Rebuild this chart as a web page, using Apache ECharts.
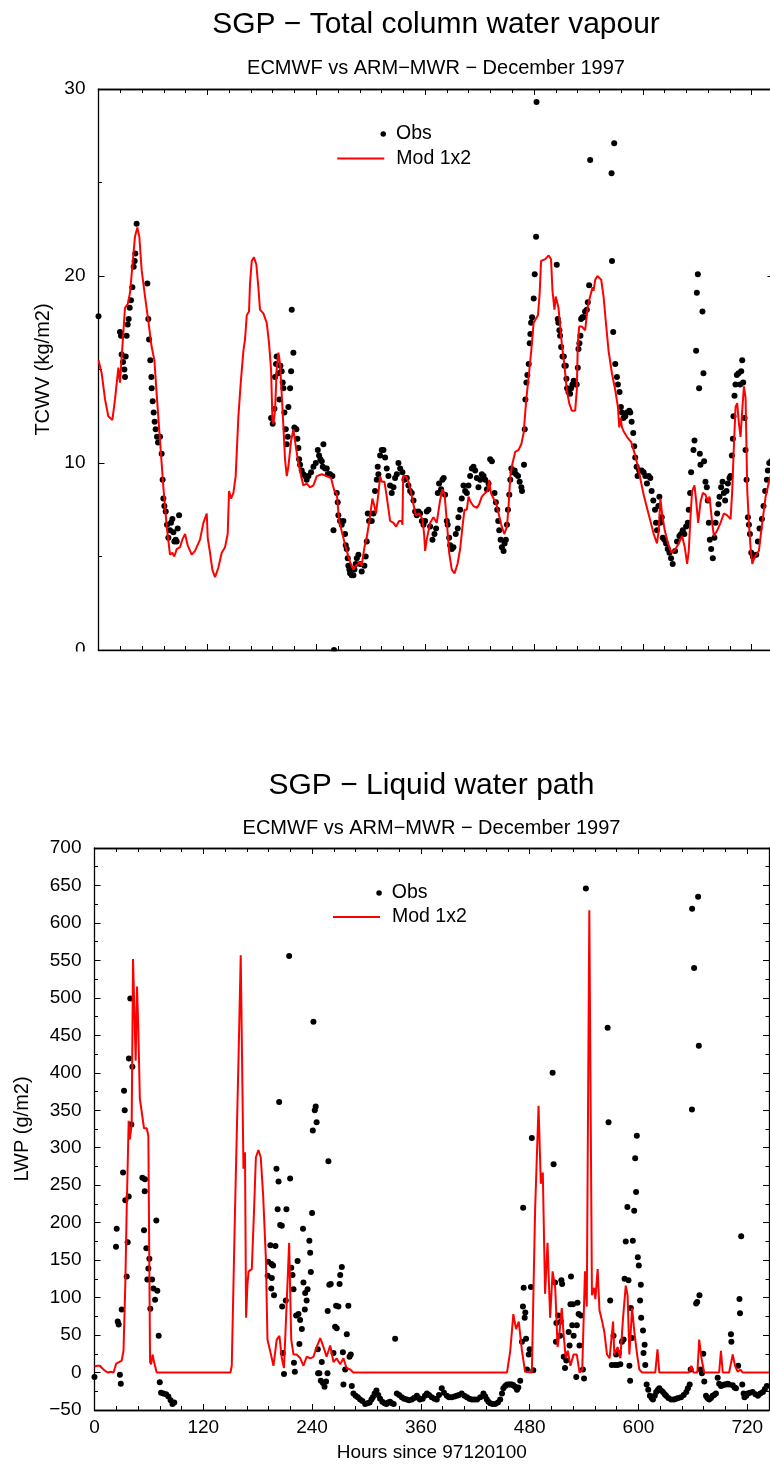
<!DOCTYPE html>
<html><head><meta charset="utf-8">
<script src="https://cdn.jsdelivr.net/npm/echarts@6/dist/echarts.min.js"></script>
<style>html,body{margin:0;padding:0;background:#fff}#c{width:770px;height:1464px}</style>
</head><body><div id="c"></div><script>
// ---------- DATA ----------
const hourTicks = [0, 120, 240, 360, 480, 600, 720];
const tcwvTicks = [0, 10, 20, 30];
const lwpTicks = [-50, 0, 50, 100, 150, 200, 250, 300, 350, 400, 450, 500, 550, 600, 650, 700];

const tcwvModHours = [0,3.5,7.2,10.8,15.3,18.2,21.9,23.7,24.8,27.4,29.2,32.2,34.7,37.3,40.2,42.8,45,47.6,51.3,54.9,58.6,61.6,64.1,67.8,71.5,75.2,78.8,81.4,83.6,86.2,89.9,92.4,95.4,98.3,102.7,106.4,111.9,115.6,119.3,120.4,122.9,125.5,128.4,132.1,135.8,139.5,142.4,143.9,146.1,148.7,151.2,154.2,156.8,159.7,161.5,163.4,165.9,167,168.9,171.4,174,176.2,178,181.7,185.4,188,190.2,191.7,192.8,194.6,196.5,198.3,200.1,202.7,205.6,207.5,209.3,212.3,214.8,217.4,220.3,223.3,225.8,229.5,233.2,236.9,240.6,246.1,251.6,256.3,260,262.6,265.2,269.9,273.6,277.3,281,283.5,285.7,288.3,290.1,293.1,295.6,298.6,301.9,304.1,305.9,308.6,310.4,312.2,315.2,317.7,321.4,325.1,328,331.3,334.3,335,335.8,338.7,341.6,344.6,347.5,349.7,353.4,357.1,358.9,360,361.8,365.5,369.2,372.8,376.5,379.1,381.3,383.9,386.5,389.4,392.4,395.7,398.6,401.2,403.4,406,407.8,410.4,413.3,417,419.6,422.5,426.2,428.8,430.6,432.5,435.4,438,441,443.9,447.2,450.2,452,453.9,456.4,459.4,463,466,468.6,471.5,474.1,477,479.6,481.5,484.4,486.3,487.8,490,492.5,496.2,498.8,500.4,502.6,504,507,510.6,513.6,516.2,518.8,521.7,525.4,527.2,528.3,529.8,532.7,536.4,539.4,541.9,544.5,545.6,547.5,550,551.9,554.1,556.7,559.3,562.2,565.9,569.6,572.5,574,575.5,577,578.8,582.5,587.3,591,594.6,598.3,600.9,604.6,608.3,612,615.6,617.5,619.3,621.2,624.1,627.8,631.5,635.9,639.6,643.3,646.2,648.8,650.6,652.5,654.3,656.9,658.7,661,663.5,666.1,669.1,671.6,673.5,676.4,678.3,682,685.6,689.3,693,696.7,698.5,700.4,702.2,704,705.9,707.7,709.5,711.4,713.2,715.1,716.9,718.7,720.6,723.5,727.9,731.6,735.3,739,740.8,744];
const tcwvModValues = [15.5,14.8,13.4,12.5,12.3,13.4,15.1,14.3,15.1,17.0,18.3,18.5,19.1,20.5,22.1,22.6,22.1,20.3,18.9,17.6,16.2,15.5,13.7,11.2,8.7,6.6,5.1,5.2,5.0,5.4,5.5,5.9,6.2,5.6,5.1,5.3,5.9,6.8,7.3,6.0,5.2,4.3,3.9,4.4,5.2,5.5,6.2,8.5,8.1,8.4,9.3,12.5,14.3,16.0,16.6,17.9,18.1,19.6,20.8,21.0,20.6,19.4,18.2,18.0,17.5,16.4,15.0,12.3,12.1,12.8,15.1,15.9,15.3,13.0,10.2,9.3,9.8,11.2,11.8,10.9,10.0,9.3,8.8,8.9,8.7,8.8,9.3,9.4,9.3,9.2,8.5,8.4,6.9,6.0,5.3,4.7,4.3,4.5,4.4,4.7,4.5,5.5,6.0,6.9,8.1,7.7,7.3,8.4,9.3,9.0,9.0,8.2,6.9,6.8,6.6,6.9,6.9,6.7,9.3,9.3,9.0,8.4,7.7,7.2,7.3,7.0,6.2,5.3,5.9,6.8,7.1,6.8,8.0,8.6,8.4,6.9,5.2,4.3,4.1,4.6,5.4,6.6,7.5,7.5,8.2,7.9,7.7,7.6,7.8,8.2,8.4,8.5,9.1,8.4,8.1,7.9,7.3,6.7,6.2,6.6,7.7,9.3,10.0,10.6,10.7,11.0,11.6,13.4,14.6,16.0,17.5,17.6,17.9,19.1,20.8,20.7,20.9,21.1,20.9,19.2,18.2,18.9,18.3,16.4,15.2,13.9,13.2,12.8,12.8,13.9,16.4,17.3,17.3,17.1,18.4,18.9,19.4,19.2,19.8,20.0,20.05,19.8,18.9,17.5,16.0,14.8,13.9,13.0,11.9,12.4,11.9,11.7,11.4,11.1,10.5,9.8,8.9,8.3,7.6,6.9,6.2,5.7,6.4,8.1,7.3,6.4,5.7,5.2,5.4,5.7,6.1,5.5,4.6,5.3,7.1,8.5,8.8,8.0,6.8,7.9,8.4,8.3,7.9,8.2,6.8,6.1,6.4,6.8,7.3,7.2,7.0,8.5,11.0,13.0,13.2,12.1,11.4,12.8,14.1,13.5,8.5,6.8,5.5,4.6,5.0,5.3,6.8,8.2,9.0,9.3,9.2];

const tcwvObsHours = [0,23.7,24.8,25.5,27,28.5,29.2,30,31,32.2,33.3,34.4,35.8,37.3,38.8,39.9,40.6,42,53.8,54.9,55.7,57.1,58.3,58.6,59.7,60.8,61.9,63,64.5,65.6,67.8,69.6,70.7,71.5,72.6,74.1,75.5,77,78.8,79.9,81.4,82.5,83.6,85.1,86.2,87.3,88.8,
190.2,192,193.9,194.6,195.7,196.4,198.3,199.4,200.5,201.9,203,203.8,204.9,206.4,207.5,208.6,209.3,211.2,212.3,213,214.8,215.9,218.1,219.2,220.3,221.1,222.2,224,225.8,227.7,229.5,231.4,234.3,236.9,239.5,241.7,243.1,244.6,246.1,247.2,247.9,249.8,251.6,252.7,254,255.3,257.8,259,259.6,262.6,263.7,264.4,266.2,268.1,269.9,271.8,272.5,273.6,274.7,275.4,276.5,277.3,279.1,281,282.1,283.5,284.7,286.5,288.3,290.1,293.1,294.5,295.7,296.8,298.2,301.2,303,304.8,306.7,307.8,308.5,310.4,312.2,314.1,315.9,317.7,319.6,321.4,323.2,325.1,326.9,328.8,330.6,332.5,335,337.2,339.8,341.6,343.5,345.3,347.2,349,350.8,352.7,354.5,356.4,358.2,360,361.8,363.7,365.5,368.1,370.3,372.1,374,375.4,377.6,379.1,380.5,382,383.9,384.9,386.5,387.6,389.4,391.2,393.8,396,396.7,398.6,400.4,402.3,404.1,406,407.8,409.6,411.5,413.3,415.2,417,418.8,420.7,422.5,424.4,426.2,428.1,429.9,431.7,433.6,436.5,438,439.5,440.6,441.7,443.2,444.6,446.5,447.6,449,450.2,451.3,452.8,453.9,455,456.4,458.7,460.2,462.4,464.2,466.1,466.8,469,469.8,470.5,471.6,472.7,474.2,475.3,476,476.8,477.9,479.7,480.8,482.3,482.8,
505.1,506.2,506.9,508,508.8,509.9,511.4,512.9,513.6,515.1,515.8,516.5,518,519.8,520.9,522.4,523.8,525.3,527.1,528.3,529,530.1,531.2,531.9,533.4,534.9,536.3,538.2,539.3,540.8,541.9,565.5,566,567.3,568.4,569.6,571.4,572.5,574.3,575.8,576.9,578.7,580.6,582.4,585,586.1,587.6,589.4,590.5,591.6,593.1,594.2,596,598.6,600.8,602.7,604.5,606.4,608.2,609.7,611.5,613.4,614.5,615.6,617.1,618.2,619.3,620.8,621.9,623.7,625.6,627.4,629.3,631.1,632.9,635.5,637.7,640.3,642.1,644,645.8,647.7,649.5,650.6,652.1,653.2,655.8,656.9,658.7,659.5,660.6,662,662.8,663.5,665.7,666.8,667.5,669,670.5,671.6,672.7,673.8,675.3,677.1,678.9,680.1,681.9,683.4,684.5,686.3,687.8,689.3,690.7,692.2,693.7,695.5,696.6,698.1,699.2,699.9,701,702.1,703.6,705.5,707.3,708.4,709.5,710.6,712.1,713.2,714.3,715.8,716.9,718,719.5,721.3,725,726.8,728.6,731.2,733,734.8,736.7,737.8,739.3,741.5];
const tcwvObsValues = [17.85,17.0,16.8,15.8,15.4,15.0,14.6,15.7,16.8,17.4,17.7,18.3,18.7,19.4,20.5,20.8,21.2,22.8,19.6,17.7,16.6,15.5,14.6,14.0,13.3,12.7,12.2,11.8,11.4,11.1,11.4,10.5,9.1,8.1,7.7,7.4,6.7,6.0,6.4,6.8,7.0,6.3,5.8,5.9,5.8,6.5,7.2,
12.4,12.1,12.9,14.6,15.3,15.7,14.8,13.4,15.2,14.9,14.3,14.0,12.7,11.8,11.0,11.4,13.0,14.0,14.9,18.2,15.9,11.9,11.8,11.3,10.8,10.2,9.9,9.6,9.4,9.3,9.1,9.3,9.5,9.8,10.0,10.7,10.4,10.2,10.1,9.8,11.0,9.7,9.7,9.4,9.4,9.4,9.3,6.4,0,8.4,7.9,7.2,6.9,6.7,6.9,6.2,5.6,5.4,4.9,4.5,4.3,4.1,4.0,4.0,4.3,4.6,4.9,5.1,4.6,4.2,4.5,5.0,5.8,7.3,6.9,6.9,7.3,8.5,9.1,9.8,9.4,10.4,10.7,10.7,10.3,9.7,9.3,8.8,8.4,8.7,9.2,9.4,10.0,9.7,9.5,9.1,9.2,8.8,8.5,8.4,8.0,7.4,7.2,7.4,7.3,6.9,6.7,6.9,7.4,7.5,6.6,5.9,6.2,6.5,8.4,8.9,8.6,9.1,9.2,8.3,6.9,6.7,6.0,5.6,5.4,5.5,6.2,6.5,7.1,7.5,8.1,8.8,8.5,8.4,8.8,9.3,9.7,9.8,9.6,9.2,8.7,9.1,9.4,9.3,9.1,8.6,8.9,10.2,10.1,8.4,7.9,7.5,6.9,6.4,5.9,5.5,5.3,5.7,5.9,6.7,7.5,8.3,9.1,9.7,9.5,9.6,9.4,9.3,9.0,8.7,8.5,9.9,11.8,13.4,14.3,14.7,15.3,16.4,16.9,17.5,17.8,18.8,20.1,22.1,29.3,
20.6,17.7,17.5,17.1,16.8,16.2,15.7,15.7,15.2,15.2,14.5,14.0,13.8,13.7,14.0,14.2,14.4,14.2,14.2,15.1,16.1,16.4,16.8,17.7,17.8,17.8,18.1,18.2,18.6,19.5,26.2,25.5,20.8,17.0,27.1,15.3,14.6,14.2,13.8,13.0,12.7,12.4,12.5,12.7,12.8,12.7,12.2,11.6,10.9,10.3,9.8,9.3,9.6,9.6,9.5,9.3,8.9,9.3,9.2,8.5,8.0,7.5,6.8,6.4,7.7,8.2,6.8,7.1,6.0,5.9,5.7,5.4,5.2,4.9,4.6,5.3,5.8,6.1,6.2,6.4,6.2,6.6,6.8,7.5,8.4,9.5,10.7,11.2,16.0,19.1,20.1,14.0,10.5,9.9,18.1,14.8,10.1,9.0,8.7,8.0,6.8,5.9,5.4,4.9,6.0,6.8,7.3,7.8,8.2,8.7,9.0,8.4,8.0,8.5,8.9,9.2,9.3,10.4,11.3,12.5,13.6,14.2,14.7,14.8,14.2,14.9,15.5,14.3,12.4,10.7,9.1,7.1,6.7,6.2,5.2,5.0,5.1,5.8,6.5,7.0,7.7,8.5,9.1,9.6,10.0,10.1];

const lwpModHours = [0,3,6,9,12,15,18,21,23,24,27,30,32,34,35.5,37.7,39,41,42.5,44,45.4,46.9,48.4,50,52,54.6,57.6,59.4,61.3,62.4,64,65.7,68.6,115,117,119,150,151.4,155,158.8,161.3,162.8,164.3,166,167.2,168.7,170,173.5,176,178,180.8,183.4,186,189,190.8,193.7,197.4,201,204,206.6,209,212,214.7,217,219.5,223,227,230.5,234,238,241.5,245,249,252.6,256,260,263.6,267,271,274.6,278,282,285.6,455,458.6,462,465,468,471.5,475,482.4,486,489.8,492.3,494.5,497,499.7,502.6,505.3,508.2,510.8,513,515.4,517.6,519.8,522,525,528.4,532,535,538,541,543,545.8,547.2,548.7,551,552.5,555,557,560,562.4,565.3,568.2,570.5,572,573.4,577,580,583,586,588,590,593,595.5,598.5,601,604,618.5,621,623,655.8,658.4,660.7,665,667,669.5,672.5,689,691,693,700,704,706.5,709.5,712.5,715,744];
const lwpModValues = [8,9,9,5,2,0,1,0,1,12,14,16,29,118,217,336,311,331,552,552,416,515,455,366,366,326,326,316,14,11,24,14,0,0,2,0,0,9,217,416,557,557,272,294,73,118,135,138,217,287,297,287,237,153,44,29,9,44,49,19,6,93,173,44,24,24,19,9,21,19,21,34,46,34,21,36,14,19,11,19,6,4,0,0,29,78,58,68,29,1,0,217,356,252,267,105,173,73,135,113,34,54,86,49,19,29,9,24,24,0,4,135,88,617,617,103,113,98,138,83,68,54,24,19,49,68,24,34,19,73,116,103,24,86,54,24,4,0,0,31,0,0,9,0,0,44,19,0,0,29,0,0,24,9,1,4,0,0];

const lwpObsHours = [0,23.7,24.5,25.6,26.7,28,29,30,31.5,32.6,33.3,34,35.5,36.6,37.7,38,39.5,40.6,41.8,52.8,54.6,55.4,55.7,57.2,58.3,59.4,60.5,61.6,63.5,65,66.8,68.2,69.3,70.8,72,73.4,76,79,81.5,84,86,88,
191,191.5,194,195,195.3,195.6,197,198,199.6,200.7,202,203,203.7,204.8,206.6,207,207.7,209,211,211.7,214.7,215.8,217,218.4,219.5,220,221,222.4,224,225,226,226.8,228.7,230,230.5,232,232.4,234,235,237,237.9,238.6,240,240.8,241.5,243,244,245,246.3,246.6,248,249.6,250.7,252,253.7,255.5,257,257.2,258,259,260.6,263.6,265.4,266.5,267.2,269,270.3,271,272.8,274,274.6,276.5,278.3,280,281.3,282.7,
283.8,285.6,288,290.5,293,295.5,298.5,301,303.5,305.5,307,309,311,313,315,317.5,320,322,324,326,328,330,331.6,333.5,336,339,341.5,344.5,347,350,352.5,355.6,357.5,359,362,364.5,366.6,369,372,375,377.6,380,383,385.5,388.6,391,394,397,399.6,402,405,408,410.8,413.5,416.3,419,422,425.5,429,431,432.8,434.5,436.5,439,442,445,447.5,449.5,451,453,455,457,458.6,460.5,462,464,466,467.5,469.6,
471.5,472.6,472.8,473.4,474.5,475.2,476,477,479,480,481.4,482.4,484,505.3,506.4,508,509,509.5,511.6,513.6,514.4,515,515.8,517.6,519,520.4,523,524,525,525.6,527,527.8,528.5,531.4,532,532.8,534,535,536.5,538.7,540,542,
566,567,568.8,570.6,572.5,574.3,575.4,577,578.4,580,581.8,583.6,584.7,586,587.8,589,590,590.8,591.6,592.7,593.8,595.3,596.4,597.4,598.2,599.3,600.4,601.8,602.6,603,605,605.6,606.8,607.5,
609,610.8,612.6,614.5,616,618,619.6,621.5,623,625,627,629,630.5,633,636,639,641.6,644,647,650,652.8,654.5,656.5,657.6,659,659.2,661.4,663.6,664.8,665.8,666.6,667.3,668.4,670,671.5,672.6,674.5,676,678,680,681.8,683.5,685.5,687.4,689,691,693,694.7,696.5,698.4,700,702,702.5,704,706,707.6,710,711.4,712,713.3,714.5,716,717,719,720.6,723,726,729,731.8,734.5,737.3,739.5,741.6];
const lwpObsValues = [-6,168,192,68,64,-3,-15,84,267,376,350,230,128,174,235,419,499,331,408,260,190,242,258,166,124,139,152,85,124,112,97,203,109,49,-13,-27,-28,-29,-32,-37,-42,-40,
129,148,170,112,145,126,143,103,169,272,218,255,361,197,196,88,26,-2,96,218,556,259,140,130,111,13,1,76,149,78,38,70,58,192,120,84,106,96,111,176,160,134,213,323,468,350,355,334,31,-1,-1,-11,14,-14,-19,-12,-1,82,282,117,118,26,61,89,59,88,118,130,141,27,-16,4,51,89,21,24,
-18,-28,-31,-33,-36,-38,-42,-41,-40,-36,-33,-28,-24,-30,-35,-39,-41,-42,-40,-39,-41,-42,45,-28,-30,-33,-35,-36,-37,-36,-34,-31,-34,-36,-35,-31,-28,-30,-33,-35,-36,-30,-21,-27,-31,-33,-33,-32,-31,-30,-28,-31,-33,-35,-36,-36,-36,-33,-28,-32,-36,-39,-41,-42,-42,-40,-36,-28,-21,-18,-16,-16,-16,-16,-17,-19,-23,-20,-11,
41,88,220,113,73,80,45,4,24,31,114,313,3,400,278,120,41,66,76,49,68,123,118,21,6,16,54,36,91,128,63,91,49,-6,63,93,78,36,76,4,-8,646,
460,334,96,10,49,10,24,10,26,11,41,44,125,175,221,123,9,-11,86,46,176,216,286,241,316,154,143,96,117,73,56,26,37,10,
-16,-23,-31,-34,-36,-31,-26,-23,-21,-24,-26,-29,-31,-34,-36,-36,-35,-34,-33,-30,-26,-21,-16,4,351,619,540,92,94,635,436,103,4,-1,25,-12,-31,-34,-36,-34,-31,-30,-28,-7,-15,-18,-17,-16,-16,-15,-16,51,41,-17,-20,-21,9,98,79,182,-16,-28,-33,-31,-28,-27,-26,-29,-31,-28,-26,-22,-18];

// ---------- CHART ----------
const FONT = "'Liberation Sans', Arial, Helvetica, sans-serif";
const pairs = (xs, ys) => xs.map((x, i) => [x, ys[i]]);
const fmtNum = v => (v < 0 ? '\u2212' + Math.abs(v) : String(v));

function xAx(g, pos, interval, len, labels) {
  return {
    gridIndex: g, type: 'value', position: pos, min: hourTicks[0], max: 744, interval: interval,
    axisLine: { show: true, onZero: false, lineStyle: { color: '#000', width: 1.3 } },
    axisTick: { show: true, inside: true, length: len, lineStyle: { color: '#000', width: 1 } },
    axisLabel: labels ? {
      show: true, margin: 8, fontSize: 19, color: '#000', fontFamily: FONT,
      formatter: v => (hourTicks.indexOf(v) >= 0 ? String(v) : '')
    } : { show: false },
    splitLine: { show: false }, minorTick: { show: false }, minorSplitLine: { show: false },
    name: labels ? 'Hours since 97120100' : '', nameLocation: 'middle', nameGap: 33,
    nameTextStyle: { fontSize: 19, color: '#000', fontFamily: FONT }
  };
}
function yAx(g, pos, ticks, labels, name, gap) {
  return {
    gridIndex: g, type: 'value', position: pos, min: ticks[0], max: ticks[ticks.length - 1],
    interval: ticks[1] - ticks[0],
    axisLine: { show: true, onZero: false, lineStyle: { color: '#000', width: 1.3 } },
    axisTick: { show: true, inside: true, length: 6, lineStyle: { color: '#000', width: 1 } },
    minorTick: { show: true, splitNumber: 2, length: 3.5, lineStyle: { color: '#000', width: 1 } },
    axisLabel: labels ? { show: true, margin: 13, fontSize: 19, color: '#000', fontFamily: FONT, formatter: fmtNum } : { show: false },
    splitLine: { show: false }, minorSplitLine: { show: false },
    name: labels ? name : '', nameLocation: 'middle', nameGap: gap, nameRotate: 90,
    nameTextStyle: { fontSize: 20, color: '#000', fontFamily: FONT }
  };
}
const titleStyle = s => ({ fontSize: s, fontWeight: 'normal', color: '#000', fontFamily: FONT });
const legendText = pad => ({ fontSize: 19.5, color: '#000', fontFamily: FONT, padding: [0, 0, 0, pad] });
const legendCommon = { selectedMode: false, padding: 0, orient: 'vertical' };
const dotStyle = { color: '#000', opacity: 1 };

const chart = echarts.init(document.getElementById('c'), null, { renderer: 'canvas' });
chart.setOption({
  animation: false,
  backgroundColor: '#fff',
  title: [
    { text: 'SGP \u2212 Total column water vapour', left: 436, top: 10, textAlign: 'center', padding: 0, textStyle: titleStyle(30) },
    { text: 'ECMWF vs ARM\u2212MWR \u2212 December 1997', left: 436, top: 58, textAlign: 'center', padding: 0, textStyle: titleStyle(20) },
    { text: 'SGP \u2212 Liquid water path', left: 431.5, top: 771, textAlign: 'center', padding: 0, textStyle: titleStyle(30) },
    { text: 'ECMWF vs ARM\u2212MWR \u2212 December 1997', left: 431.5, top: 818, textAlign: 'center', padding: 0, textStyle: titleStyle(20) }
  ],
  legend: [
    Object.assign({}, legendCommon, { data: [{ name: 'Obs', icon: 'circle', itemStyle: dotStyle }], left: 380.5, top: 124, itemWidth: 5.5, itemHeight: 5.5, textStyle: legendText(5) }),
    Object.assign({}, legendCommon, { data: [{ name: 'Mod 1x2', icon: 'rect' }], left: 337.3, top: 148.5, itemWidth: 47, itemHeight: 2.2, textStyle: legendText(7) }),
    Object.assign({}, legendCommon, { data: [{ name: 'Obs', icon: 'circle', itemStyle: dotStyle }], left: 376.3, top: 883, itemWidth: 5.5, itemHeight: 5.5, textStyle: legendText(5) }),
    Object.assign({}, legendCommon, { data: [{ name: 'Mod 1x2', icon: 'rect' }], left: 333, top: 907, itemWidth: 47, itemHeight: 2.2, textStyle: legendText(7) })
  ],
  grid: [
    { left: 98.5, top: 89, width: 675, height: 561, containLabel: false, outerBoundsMode: 'none' },
    { left: 94.5, top: 848, width: 674.5, height: 562, containLabel: false, outerBoundsMode: 'none' }
  ],
  xAxis: [
    xAx(0, 'bottom', 24, 4, false), xAx(0, 'bottom', 120, 6, false),
    xAx(0, 'top', 24, 4, false), xAx(0, 'top', 120, 6, false),
    xAx(1, 'bottom', 24, 4, false), xAx(1, 'bottom', 120, 6, true),
    xAx(1, 'top', 24, 4, false), xAx(1, 'top', 120, 6, false)
  ],
  yAxis: [
    yAx(0, 'left', tcwvTicks, true, 'TCWV (kg/m2)', 43.5),
    yAx(0, 'right', tcwvTicks, false, '', 0),
    yAx(1, 'left', lwpTicks, true, 'LWP (g/m2)', 62.5),
    yAx(1, 'right', lwpTicks, false, '', 0)
  ],
  series: [
    { type: 'scatter', name: 'Obs', xAxisIndex: 0, yAxisIndex: 0, data: pairs(tcwvObsHours, tcwvObsValues),
      symbol: 'circle', symbolSize: 6, itemStyle: dotStyle, z: 2, silent: true },
    { type: 'line', name: 'Mod 1x2', xAxisIndex: 0, yAxisIndex: 0, data: pairs(tcwvModHours, tcwvModValues),
      symbol: 'none', showSymbol: false, lineStyle: { color: '#ff0000', width: 2 }, itemStyle: { color: '#ff0000' }, z: 3, silent: true },
    { type: 'scatter', name: 'Obs', xAxisIndex: 5, yAxisIndex: 2, data: pairs(lwpObsHours, lwpObsValues),
      symbol: 'circle', symbolSize: 6, itemStyle: dotStyle, z: 2, silent: true },
    { type: 'line', name: 'Mod 1x2', xAxisIndex: 5, yAxisIndex: 2, data: pairs(lwpModHours, lwpModValues),
      symbol: 'none', showSymbol: false, lineStyle: { color: '#ff0000', width: 2 }, itemStyle: { color: '#ff0000' }, z: 3, silent: true }
  ],
  graphic: [
    { type: 'rect', shape: { x: 0, y: 651.5, width: 770, height: 100 }, style: { fill: '#fff' }, z: 100, silent: true }
  ]
});
</script></body></html>
